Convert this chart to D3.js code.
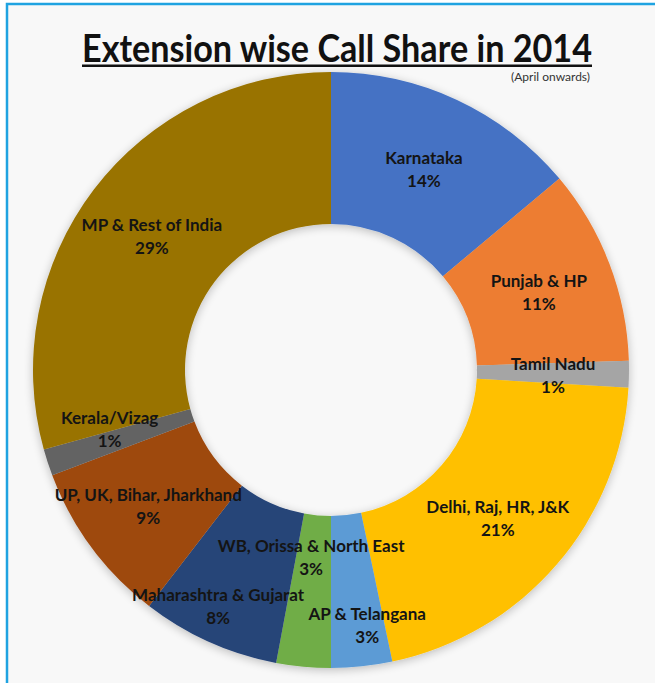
<!DOCTYPE html>
<html>
<head>
<meta charset="utf-8">
<script src="https://cdn.jsdelivr.net/npm/d3@7"></script>
<style>
  html, body { margin: 0; padding: 0; background: #ffffff; }
  svg { display: block; }
</style>
</head>
<body>
<svg id="chart" width="655" height="683"></svg>
<script>
// ---- Data ----
const regions = [
  "Karnataka",
  "Punjab & HP",
  "Tamil Nadu",
  "Delhi, Raj, HR, J&K",
  "AP & Telangana",
  "WB, Orissa & North East",
  "Maharashtra & Gujarat",
  "UP, UK, Bihar, Jharkhand",
  "Kerala/Vizag",
  "MP & Rest of India"
];
const shares = [13.9, 10.6, 1.45, 20.75, 3.3, 2.95, 7.5, 8.8, 1.45, 29.3];
const colors = ["#4472C4", "#ED7D31", "#A5A5A5", "#FFC000", "#5B9BD5",
                "#70AD47", "#264478", "#9E480E", "#636363", "#997300"];
const titleText = "Extension wise Call Share in 2014";
const subtitleText = "(April onwards)";

// ---- Layout (label nudges relative to the arc centroid) ----
const labelNudge = [[2,-6],[7,-1],[7,2],[4,8],[14,41],[0,-27],[-25,40],[-10,8],[-17,-8],[-8,-4]];

const svg = d3.select("#chart");
const W = 655, H = 683;
const cx = 331, cy = 370, rOuter = 298, rInner = 146;

const defs = svg.append("defs");
const f = defs.append("filter").attr("id", "shadow").attr("x", "-20%").attr("y", "-20%").attr("width", "140%").attr("height", "140%");
f.append("feGaussianBlur").attr("in", "SourceAlpha").attr("stdDeviation", 5).attr("result", "b");
f.append("feOffset").attr("in", "b").attr("dx", 0).attr("dy", 2).attr("result", "o");
f.append("feComponentTransfer").attr("in", "o").attr("result", "o2")
  .append("feFuncA").attr("type", "linear").attr("slope", 0.25);
const m = f.append("feMerge");
m.append("feMergeNode").attr("in", "o2");
m.append("feMergeNode").attr("in", "SourceGraphic");

// background + frame
svg.append("rect").attr("x", 0).attr("y", 0).attr("width", W).attr("height", H).attr("fill", "#ffffff");
svg.append("rect").attr("x", 7).attr("y", 4).attr("width", W + 20).attr("height", H + 20)
  .attr("fill", "#F8F8F8").attr("stroke", "#1FA3E1").attr("stroke-width", 2.5);

// title
svg.append("text")
  .attr("x", 337).attr("y", 62)
  .attr("text-anchor", "middle")
  .attr("font-family", "Lato, 'Open Sans', sans-serif")
  .attr("font-weight", 700)
  .attr("font-size", 38)
  .attr("fill", "#111")
  .attr("textLength", 510)
  .attr("lengthAdjust", "spacingAndGlyphs")
  .text(titleText);
svg.append("rect").attr("x", 82).attr("y", 64.5).attr("width", 510).attr("height", 2.5).attr("fill", "#111");

svg.append("text")
  .attr("x", 590).attr("y", 81)
  .attr("text-anchor", "end")
  .attr("font-family", "Lato, 'Open Sans', sans-serif")
  .attr("font-size", 12)
  .attr("fill", "#333")
  .text(subtitleText);

// donut
const data = regions.map((r, i) => ({ name: r, value: shares[i], color: colors[i], i }));
const total = d3.sum(shares);
const pie = d3.pie().value(d => d.value).sort(null);
const arc = d3.arc().innerRadius(rInner).outerRadius(rOuter);
const labelArc = d3.arc().innerRadius(215).outerRadius(215);

const g = svg.append("g").attr("transform", `translate(${cx},${cy})`);
const arcs = pie(data);

g.append("g").attr("filter", "url(#shadow)")
  .selectAll("path").data(arcs).join("path")
  .attr("d", arc)
  .attr("fill", d => d.data.color);

const labels = g.append("g").selectAll("text").data(arcs).join("text")
  .attr("transform", d => {
    const c = labelArc.centroid(d);
    const n = labelNudge[d.data.i];
    return `translate(${c[0] + n[0]},${c[1] + n[1]})`;
  })
  .attr("text-anchor", "middle")
  .attr("font-family", "Lato, 'Open Sans', sans-serif")
  .attr("font-weight", 700)
  .attr("font-size", 17)
  .attr("fill", "#141414");

labels.append("tspan").attr("x", 0).attr("y", -5).text(d => d.data.name);
labels.append("tspan").attr("x", 0).attr("y", 18)
  .text(d => Math.round(d.data.value / total * 100) + "%");
</script>
</body>
</html>
